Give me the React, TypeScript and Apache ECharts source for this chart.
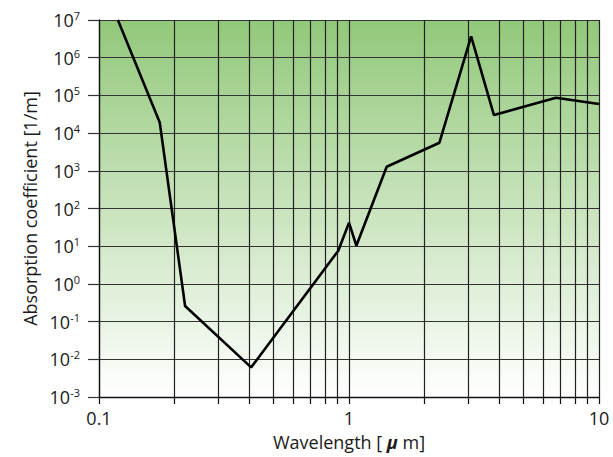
import React, { useEffect, useRef } from "react";
import * as echarts from "echarts";

const wavelength = [0.119, 0.175, 0.221, 0.406, 0.906, 1.0, 1.07, 1.415, 2.3, 3.08, 3.8, 6.73, 10];
const absorption = [1e7, 1.9e4, 0.26, 0.0061, 7.6, 42, 10.3, 1285, 5560, 3.7e6, 3.0e4, 8.7e4, 5.9e4];
const xTickValues = [0.1, 0.2, 0.3, 0.4, 0.5, 0.6, 0.7, 0.8, 0.9, 1, 2, 3, 4, 5, 6, 7, 8, 9, 10];
const xLabelValues = [0.1, 1, 10];
const yMin = 1e-3;
const yMax = 1e7;

const FONT = "Open Sans";

export default function App() {
  const ref = useRef<HTMLDivElement>(null);
  useEffect(() => {
    if (!ref.current) return;
    const chart = echarts.init(ref.current, undefined, { renderer: "svg" });
    chart.setOption({
      animation: false,
      grid: {
        left: 99,
        right: 14,
        top: 20,
        bottom: 60,
        show: true,
        borderWidth: 0,
        backgroundColor: new echarts.graphic.LinearGradient(0, 0, 0, 1, [
          { offset: 0, color: "#92c87a" },
          { offset: 1, color: "#ffffff" },
        ]),
      },
      xAxis: {
        type: "log",
        logBase: 10,
        min: 0.1,
        max: 10,
        name: "Wavelength [ {mu|μ} m]",
        nameLocation: "middle",
        nameGap: 36,
        nameTextStyle: {
          fontFamily: FONT,
          fontSize: 18,
          color: "#1a1a1a",
          rich: {
            mu: { fontFamily: FONT, fontSize: 18, fontStyle: "italic", fontWeight: "bold", color: "#1a1a1a" },
          },
        },
        axisLine: { show: true, lineStyle: { color: "#111", width: 1.3 } },
        axisTick: {
          show: true,
          inside: false,
          length: 7,
          customValues: xTickValues,
          lineStyle: { color: "#111", width: 1.2 },
        },
        axisLabel: {
          customValues: xLabelValues,
          margin: 12,
          fontFamily: FONT,
          fontSize: 18,
          color: "#1a1a1a",
          formatter: (v: number) => String(v),
        },
        splitLine: { show: true, lineStyle: { color: "#222", width: 1.2 } },
      },
      yAxis: {
        type: "log",
        logBase: 10,
        min: yMin,
        max: yMax,
        interval: 1,
        splitNumber: 10,
        name: "Absorption coefficient [1/m]",
        nameLocation: "middle",
        nameGap: 60,
        nameTextStyle: { fontFamily: FONT, fontSize: 18, color: "#1a1a1a" },
        axisLine: { show: true, lineStyle: { color: "#111", width: 1.3 } },
        axisTick: { show: true, inside: false, length: 11, lineStyle: { color: "#333", width: 1.2 } },
        axisLabel: {
          margin: 19,
          fontFamily: FONT,
          color: "#1a1a1a",
          formatter: (v: number) => `{b|10}{s|${Math.round(Math.log10(v))}}`,
          rich: {
            b: { fontFamily: FONT, fontSize: 18, lineHeight: 20, color: "#1a1a1a" },
            s: { fontFamily: FONT, fontSize: 11, lineHeight: 12, verticalAlign: "top", color: "#1a1a1a" },
          },
        },
        splitLine: { show: true, lineStyle: { color: "#333", width: 1.2 } },
      },
      series: [
        {
          type: "line",
          data: wavelength.map((x, i) => [x, absorption[i]]),
          showSymbol: false,
          symbol: "none",
          lineStyle: { color: "#000", width: 2.6 },
          clip: true,
        },
      ],
    });
    return () => chart.dispose();
  }, []);
  return <div ref={ref} style={{ width: 613, height: 457, position: "absolute", left: 0, top: 0 }} />;
}
